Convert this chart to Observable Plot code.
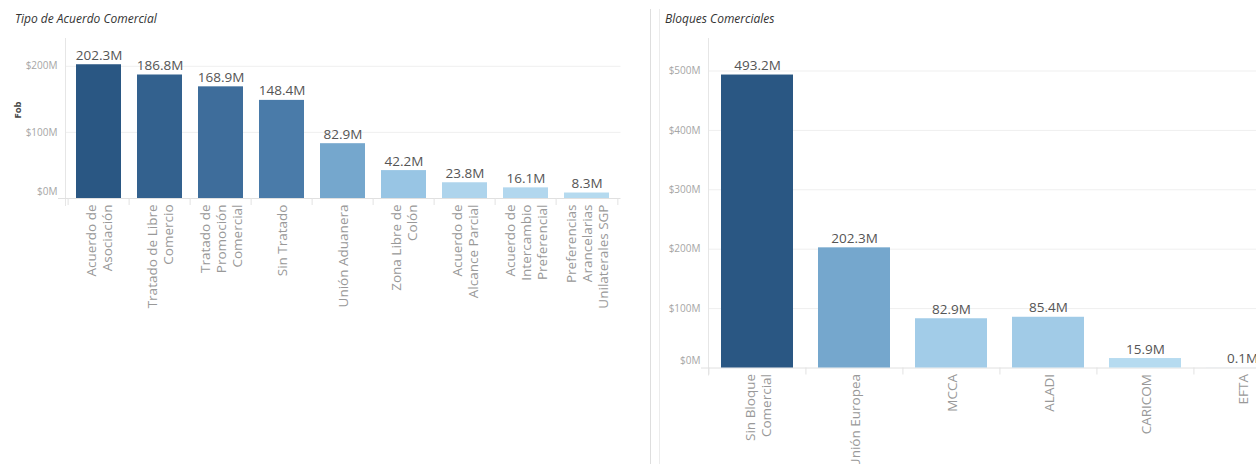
<!DOCTYPE html>
<html><head><meta charset="utf-8">
<script src="https://cdn.jsdelivr.net/npm/d3@7"></script>
<script src="https://cdn.jsdelivr.net/npm/@observablehq/plot@0.6"></script>
<style>
html,body{margin:0;padding:0;width:1256px;height:464px;overflow:hidden;background:#fff;font-family:"Open Sans",sans-serif;}
#wrap{position:relative;width:1256px;height:464px;overflow:hidden;}
.title{position:absolute;top:10px;font-style:italic;font-size:12px;color:#333;white-space:nowrap;}
.panel{position:absolute;top:0;}
.panel svg{max-width:none !important;display:block;}
.sep{position:absolute;top:9px;height:455px;width:1px;}
</style></head>
<body><div id="wrap">
<div class="panel" id="left" style="left:0px;width:640px"></div>
<div class="panel" id="right" style="left:650px;width:660px"></div>
<div class="sep" style="left:650px;background:#dedede"></div>
<div class="sep" style="left:659px;background:#ececec"></div>
<div class="title" style="left:15px">Tipo de Acuerdo Comercial</div>
<div class="title" style="left:665px">Bloques Comerciales</div>
</div>
<script>
// ---- Data ----
const tipoCategorias = ["Acuerdo de Asociación", "Tratado de Libre Comercio", "Tratado de Promoción Comercial", "Sin Tratado", "Unión Aduanera", "Zona Libre de Colón", "Acuerdo de Alcance Parcial", "Acuerdo de Intercambio Preferencial", "Preferencias Arancelarias Unilaterales SGP"];
const tipoEtiquetas = ["Acuerdo de\nAsociación", "Tratado de Libre\nComercio", "Tratado de\nPromoción\nComercial", "Sin Tratado", "Unión Aduanera", "Zona Libre de\nColón", "Acuerdo de\nAlcance Parcial", "Acuerdo de\nIntercambio\nPreferencial", "Preferencias\nArancelarias\nUnilaterales SGP"];
const tipoValores = [202.3, 186.8, 168.9, 148.4, 82.9, 42.2, 23.8, 16.1, 8.3];
const tipoTicks = [0, 100, 200];

const bloqueCategorias = ["Sin Bloque Comercial", "Unión Europea", "MCCA", "ALADI", "CARICOM", "EFTA"];
const bloqueEtiquetas = ["Sin Bloque\nComercial", "Unión Europea", "MCCA", "ALADI", "CARICOM", "EFTA"];
const bloqueValores = [493.2, 202.3, 82.9, 85.4, 15.9, 0.1];
const bloqueTicks = [0, 100, 200, 300, 400, 500];

// colour ramp (fractions of the max value)
const rampStops = [0, 0.12, 0.2, 0.41, 0.73, 1];
const rampColors = ["#b9ddf1", "#aed4ec", "#9ac6e5", "#75a7cd", "#4a7baa", "#2a5783"];

function chart({cats, labels, values, ticks, width, height, mL, mR, mT, mB, yMax, fob}) {
  const data = cats.map((c, i) => ({cat: c, label: labels[i], value: values[i]}));
  const max = d3.max(values);
  const step = (width - mL - mR) / cats.length;
  const tickStyle = {tickSize: 7, tickFormat: () => "", stroke: "#e2e2e2", strokeOpacity: 1, label: null};
  const marks = [
    Plot.gridY(ticks.filter(t => t > 0), {stroke: "#efefef", strokeOpacity: 1}),
    Plot.frame({anchor: "left", stroke: "#e6e6e6", insetBottom: -7}),
    Plot.ruleY([0], {stroke: "#e0e0e0", insetLeft: -7}),
    Plot.axisX(cats, {...tickStyle, dx: -step / 2}),
    Plot.axisX([cats[cats.length - 1]], {...tickStyle, dx: step / 2}),
    Plot.axisY(ticks.filter(t => t > 0), {tickSize: 0, tickPadding: 8, tickFormat: d => `$${d}M`, fill: "#a6a6a6", fontSize: 10, label: null}),
    Plot.axisY([0], {tickSize: 0, tickPadding: 8, tickFormat: d => `$${d}M`, fill: "#a6a6a6", fontSize: 10, label: null, dy: -7}),
    Plot.barY(data, {x: "cat", y: "value", fill: "value"}),
    Plot.text(data, {x: "cat", y: "value", text: d => d.value.toFixed(1) + "M", dy: -5, lineAnchor: "bottom", fill: "#555", fontSize: 13.5}),
    Plot.text(data, {x: "cat", frameAnchor: "bottom", text: "label", rotate: -90, textAnchor: "end", lineAnchor: "middle", dy: 6, fill: "#999", fontSize: 13.5, lineHeight: 1.2})
  ];
  if (fob) marks.push(Plot.text(["Fob"], {frameAnchor: "left", dx: -48, rotate: -90, text: d => d, fontWeight: "bold", fill: "#444", fontSize: 9.5}));
  return Plot.plot({
    width, height,
    marginLeft: mL, marginRight: mR, marginTop: mT, marginBottom: mB,
    style: {fontFamily: "'Open Sans', sans-serif", background: "transparent", overflow: "visible"},
    x: {type: "band", domain: cats, paddingInner: 0.255, paddingOuter: 0.1275},
    y: {domain: [0, yMax]},
    color: {type: "linear", domain: rampStops.map(f => f * max), range: rampColors},
    marks
  });
}

document.getElementById("left").append(chart({
  cats: tipoCategorias, labels: tipoEtiquetas, values: tipoValores, ticks: tipoTicks,
  width: 640, height: 464, mL: 65, mR: 19.5, mT: 38, mB: 266, yMax: 242, fob: true
}));
document.getElementById("right").append(chart({
  cats: bloqueCategorias, labels: bloqueEtiquetas, values: bloqueValores, ticks: bloqueTicks,
  width: 660, height: 464, mL: 58, mR: 19, mT: 38, mB: 96.5, yMax: 554.7, fob: false
}));
</script>
</body></html>
